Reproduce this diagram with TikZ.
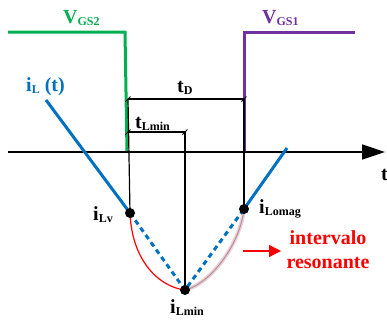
\documentclass[tikz,border=0pt]{standalone}
\usepackage{fontspec}
\setmainfont{Liberation Serif}
\usetikzlibrary{arrows.meta}
\definecolor{vgsgreen}{RGB}{0,176,80}
\definecolor{vgspurple}{RGB}{112,48,160}
\definecolor{ilblue}{RGB}{0,112,192}
\definecolor{resred}{RGB}{255,0,0}
\definecolor{shadowpink}{RGB}{232,210,216}
\definecolor{shadowcore}{RGB}{190,140,152}
\newcommand\sbx[1]{\raisebox{-2.5pt}{\fontsize{12}{12}\selectfont #1}}
\begin{document}
\begin{tikzpicture}[x=1pt,y=-1pt,
  lbl/.style={inner sep=0pt, anchor=base west, font=\bfseries\fontsize{20}{22}\selectfont},
  thin line/.style={black, line width=1.2pt},
  tickmark/.style={black, line width=0.9pt},
  dot/.style={circle, fill=black, inner sep=0pt, minimum size=10pt},
  blueline/.style={ilblue, line width=3pt},
  bluedash/.style={ilblue, line width=3pt, dash pattern=on 5pt off 4pt}]
\useasboundingbox (0,0) rectangle (387,325);

% key points
\coordinate (iLv) at (130,213);
\coordinate (iLmin) at (185,290);
\coordinate (iLomag) at (244,209);
\coordinate (blueStart) at (46,100);
\coordinate (blueEnd) at (287,148);
\coordinate (axL) at (8,152);
\coordinate (axR) at (385,152);
\coordinate (tdL) at (128,99);
\coordinate (tdR) at (244,99);
\coordinate (tlL) at (128,132);
\coordinate (tlR) at (185,132);
\coordinate (gA) at (8,32);
\coordinate (gB) at (125,32);
\coordinate (gC) at (127,152);
\coordinate (pA) at (355,32);
\coordinate (pB) at (244,32);
\coordinate (pC) at (244,152);
\coordinate (arrL) at (243,251);
\coordinate (arrR) at (281,251);

% gate signals
\draw[vgsgreen, line width=3pt] (gA) -- (gB) -- (gC);
\draw[vgspurple, line width=3pt] (pA) -- (pB) -- (pC);

% axis
\draw[black, line width=1.5pt, -{Triangle[length=23pt,width=15pt]}] (axL) -- (axR);

% vertical guides
\draw[thin line] (tdL) -- (iLv);
\draw[thin line] (tlR) -- (iLmin);
\draw[black, line width=1.6pt] (tdR) -- (iLomag);

% dimension lines
\draw[thin line] (tdL) -- (tdR);
\draw[thin line] (tlL) -- (tlR);
\foreach \c in {tdL,tdR,tlL,tlR}
  \draw[tickmark] ([shift={(-2.5,2.5)}]\c) -- ([shift={(2.5,-2.5)}]\c);

% resonant curves
\draw[shadowpink, line width=4pt] (iLmin) .. controls (210,284) and (240,245) .. (iLomag);
\draw[shadowcore, line width=1pt] (iLmin) .. controls (210,284) and (240,245) .. (iLomag);
\draw[resred, line width=1.2pt] (iLv) .. controls (132,262) and (160,287) .. (iLmin);

% inductor current
\draw[blueline] (blueStart) -- (iLv);
\draw[bluedash] (iLv) -- (iLmin) -- (iLomag);
\draw[blueline] (iLomag) -- (blueEnd);

% dots
\node[dot] (dv) at (iLv) {};
\node[dot] (dmin) at (iLmin) {};
\node[dot] (dmag) at (iLomag) {};

% labels
\node[lbl, text=vgsgreen] (lvgs2) at (63,23) {V\sbx{GS2}};
\node[lbl, text=vgspurple] (lvgs1) at (262,23) {V\sbx{GS1}};
\node[lbl, text=ilblue] (lil) at (26,91) {i\sbx{L} (t)};
\node[lbl] (ltd) at (177,92) {t\sbx{D}};
\node[lbl] (ltl) at (135,128) {t\sbx{Lmin}};
\node[lbl] (llv) at (93,220) {i\sbx{Lv}};
\node[lbl] (llmin) at (170,313) {i\sbx{Lmin}};
\node[lbl] (llmag) at (259,213) {i\sbx{Lomag}};
\node[lbl] (lt) at (381,180) {t};

% resonant interval
\draw[resred, line width=1.2pt, -{Triangle[length=12pt,width=12pt]}] (arrL) -- (arrR);
\node[inner sep=0pt, anchor=north, text=resred, align=center,
      font=\bfseries\fontsize{20}{24}\selectfont] (lres) at (328,230) {intervalo\\resonante};
\end{tikzpicture}
\end{document}
